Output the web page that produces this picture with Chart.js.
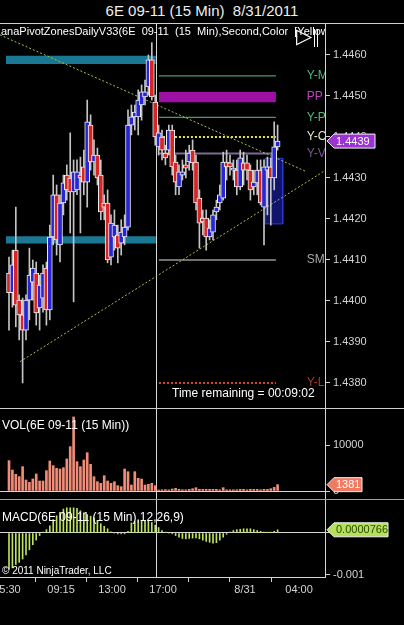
<!DOCTYPE html>
<html><head><meta charset="utf-8">
<script src="https://cdn.jsdelivr.net/npm/chart.js@4.4.1/dist/chart.umd.min.js"></script>
<style>
html,body{margin:0;padding:0;background:#000;}
#wrap{position:relative;width:404px;height:625px;overflow:hidden;background:#000;font-family:Arial,"Liberation Sans",sans-serif;}
.cv{position:absolute;left:0;}
.t{position:absolute;color:#fff;white-space:pre;line-height:1;}
.hl{position:absolute;height:1px;background:#cfcfcf;}
</style></head><body>
<div id="wrap">
 <canvas id="pc" class="cv" width="404" height="385" style="top:23px"></canvas>
 <canvas id="vc" class="cv" width="404" height="90" style="top:409px"></canvas>
 <canvas id="mc" class="cv" width="404" height="100" style="top:500px"></canvas>
 <div class="t" style="top:3px;left:0;width:404px;text-align:center;font-size:15px;color:#eee">6E 09-11 (15 Min)  8/31/2011</div>
 <div class="hl" style="top:23px;left:0;width:404px"></div>
 <div class="hl" style="top:408px;left:0;width:404px"></div>
 <div class="hl" style="top:499px;left:0;width:404px;background:#a0a0a0"></div>
 <div class="t" style="top:26px;left:1px;width:324px;overflow:hidden;font-size:11px">anaPivotZonesDailyV33(6E  09-11  (15  Min),Second,Color  [Yellow</div>
 <div class="t" style="top:25px;left:296px;font-size:21px">▷</div>
 <div style="position:absolute;left:314px;top:29px;width:1px;height:18px;background:#fff"></div>
 <div style="position:absolute;left:317px;top:29px;width:1px;height:18px;background:#fff"></div>
 <div class="t" style="top:387px;left:172px;font-size:12px">Time remaining = 00:09:02</div>
 <div class="t" style="top:419px;left:2px;font-size:12px">VOL(6E 09-11 (15 Min))</div>
 <div class="t" style="top:511px;left:2px;font-size:12px">MACD(6E 09-11 (15 Min),12,26,9)</div>
 <div class="t" style="top:566px;left:2px;font-size:10px">© 2011 NinjaTrader, LLC</div>
</div>
<script>
// ---------- data ----------
const open = [1.44068,1.44020,1.44124,1.44002,1.43966,1.43929,1.44002,1.44046,1.44068,1.43983,
1.44007,1.44080,1.43978,1.44156,1.44259,1.44137,1.44239,1.44307,1.44300,1.44266,
1.44271,1.44307,1.44327,1.44290,1.44429,1.44339,1.44356,1.44307,1.44239,1.44239,
1.44107,1.44156,1.44161,1.44141,1.44156,1.44180,1.44429,1.44449,1.44449,1.44478,
1.44498,1.44522,1.44588,1.44485,1.44376,1.44400,1.44361,1.44368,1.44417,1.44339,
1.44278,1.44307,1.44332,1.44339,1.44368,1.44339,1.44251,1.44202,1.44202,1.44156,
1.44168,1.44217,1.44239,1.44251,1.44339,1.44337,1.44319,1.44319,1.44278,1.44337,
1.44337,1.44319,1.44278,1.44288,1.44319,1.44229,1.44319,1.44327,1.44300,1.44376];
const high = [1.44107,1.44124,1.44229,1.44015,1.44007,1.44015,1.44129,1.44100,1.44095,1.44063,
1.44088,1.44095,1.44185,1.44307,1.44283,1.44259,1.44307,1.44332,1.44410,1.44344,
1.44344,1.44351,1.44368,1.44490,1.44454,1.44393,1.44373,1.44344,1.44259,1.44271,
1.44210,1.44222,1.44185,1.44198,1.44210,1.44466,1.44478,1.44478,1.44515,1.44527,
1.44539,1.44600,1.44630,1.44502,1.44429,1.44417,1.44380,1.44429,1.44429,1.44356,
1.44332,1.44344,1.44368,1.44380,1.44393,1.44356,1.44271,1.44222,1.44222,1.44198,
1.44222,1.44246,1.44283,1.44363,1.44368,1.44356,1.44344,1.44344,1.44368,1.44363,
1.44356,1.44332,1.44319,1.44344,1.44344,1.44344,1.44351,1.44349,1.44437,1.44429];
const low = [1.43929,1.43985,1.43937,1.43905,1.43800,1.43905,1.43954,1.44002,1.43941,1.43929,
1.43973,1.43941,1.43954,1.44137,1.44112,1.44095,1.44210,1.44246,1.44166,1.43998,
1.44259,1.44166,1.44259,1.44229,1.44319,1.44307,1.44283,1.44198,1.44198,1.44093,
1.44088,1.44124,1.44093,1.44112,1.44137,1.44173,1.44405,1.44417,1.44405,1.44441,
1.44478,1.44502,1.44490,1.44380,1.44356,1.44344,1.44332,1.44356,1.44307,1.44259,
1.44259,1.44295,1.44300,1.44319,1.44319,1.44222,1.44129,1.44161,1.44124,1.44149,
1.44149,1.44198,1.44222,1.44246,1.44295,1.44307,1.44295,1.44259,1.44271,1.44283,
1.44295,1.44246,1.44259,1.44259,1.44234,1.44137,1.44210,1.44185,1.44271,1.44368];
const close = [1.44020,1.44088,1.43990,1.43966,1.43929,1.44002,1.44063,1.44080,1.43971,1.44039,
1.44068,1.43978,1.44156,1.44259,1.44149,1.44239,1.44288,1.44271,1.44266,1.44315,
1.44315,1.44300,1.44290,1.44437,1.44339,1.44356,1.44300,1.44217,1.44229,1.44100,
1.44190,1.44185,1.44129,1.44168,1.44180,1.44429,1.44449,1.44461,1.44490,1.44510,
1.44510,1.44588,1.44498,1.44400,1.44410,1.44368,1.44349,1.44417,1.44327,1.44290,
1.44315,1.44315,1.44324,1.44361,1.44337,1.44239,1.44190,1.44193,1.44156,1.44178,
1.44210,1.44229,1.44259,1.44339,1.44327,1.44327,1.44324,1.44278,1.44349,1.44319,
1.44319,1.44271,1.44290,1.44319,1.44239,1.44327,1.44327,1.44300,1.44376,1.44390];
const volume = [6600,4570,3620,3120,5290,2390,1880,2610,3700,2170,
2170,4420,6520,5510,4930,4780,5070,6960,9640,16100,
6380,5290,6740,8330,5800,3120,2030,1670,3330,2170,
1670,2030,1160,940,4780,4200,1300,4200,2760,2600,
1300,1450,1670,1160,220,260,300,250,430,580,
360,260,260,360,500,720,360,360,360,360,
360,360,260,720,260,260,260,260,360,360,
260,360,360,360,260,360,360,500,800,1381];
const macd = [-0.00087,-0.00083,-0.00075,-0.00070,-0.00062,-0.00052,-0.00040,-0.00028,-0.00017,-0.00006,
0.00002,0.00008,0.00017,0.00032,0.00041,0.00049,0.00057,0.00060,0.00060,0.00060,
0.00059,0.00053,0.00048,0.00044,0.00040,0.00036,0.00030,0.00022,0.00016,0.00010,
0.00003,0.00000,-0.00002,-0.00002,-0.00002,0.00004,0.00024,0.00027,0.00029,0.00029,
0.00029,0.00029,0.00025,0.00019,0.00013,0.00006,0.00002,0.00000,-0.00002,-0.00006,
-0.00010,-0.00013,-0.00014,-0.00013,-0.00012,-0.00012,-0.00014,-0.00017,-0.00020,-0.00022,
-0.00024,-0.00023,-0.00017,-0.00010,-0.00003,0.00002,0.00006,0.00008,0.00009,0.00010,
0.00010,0.00010,0.00008,0.00006,0.00004,0.00002,0.00002,0.00002,0.00004,0.0000766];

const priceTicks = [1.4380,1.4390,1.4400,1.4410,1.4420,1.4430,1.4440,1.4450,1.4460];
const volTicks = [0,10000];
const macdTicks = [-0.001,0];
const timeTickAt = [0.3,15.3,30.3,45.3,60.3,69.4,85.3];       // bar index of each time tick
const timeTickLabels = ['5:30','09:15','13:00','17:00','','8/31','04:00'];
const sessionBreakAt = 43.2;

const levelNames  = ['Y-M','PP','Y-P','Y-C','Y-V','SM','Y-L'];
const levelValues = [1.44549,1.44498,1.44448,1.44400,1.44360,1.44100,1.43800];
const levelSpan = [44.1,78.5];
const ppBand = [1.44485,1.44510];
const zoneHigh = [1.44598,1.44158];
const zoneLow  = [1.44578,1.44140];
const zoneSpan = [-0.9,43.2];
const trendUpper = [[-2.65,1.44649],[87.6,1.44315]];
const trendLower = [[3.24,1.43852],[92.94,1.44318]];
const boxX = [75.3,80.5];
const boxY = [1.44188,1.44348];

// ---------- styles ----------
const FONT = 'Arial, "Liberation Sans", sans-serif';
const AX = '#d4d4d4';
const xMin = -2.65, xMax = 92.94;
const levelStyle = {
 'Y-M':{line:'#5cc090',w:1,dash:[],txt:'#4fb87f'},
 'PP': {line:null,txt:'#c040c0'},
 'Y-P':{line:'#5cc090',w:1,dash:[],txt:'#4fb87f'},
 'Y-C':{line:'#e4e44c',w:2,dash:[2,2],txt:'#e8e8c8'},
 'Y-V':{line:'#7e6a96',w:2,dash:[],txt:'#7a5a90'},
 'SM': {line:'#e0e0e0',w:1,dash:[],txt:'#a8a8a8'},
 'Y-L':{line:'#d84828',w:2,dash:[2,2],txt:'#a83a22'}
};
const idx = close.map((_, i) => i);

function xCfg(show){
 return {type:'linear', min:xMin, max:xMax, offset:false, display:show,
  grid:{drawOnChartArea:false, drawTicks:true, tickLength:5, tickColor:AX, color:AX},
  border:{display:true, color:AX},
  ticks:{color:AX, font:{size:11, family:FONT}, padding:1, autoSkip:false, maxRotation:0, minRotation:0,
         callback:(v,i)=> timeTickLabels[i] ?? ''},
  afterBuildTicks:(s)=>{ s.ticks = timeTickAt.map(v=>({value:v})); },
  afterFit:(s)=>{ s.height = show ? 23 : 0; s.paddingLeft = 0; s.paddingRight = 0; s.paddingTop = 0; s.paddingBottom = 0; }
 };
}
function yCfg(min,max,tickVals,fmt,zeroLine){
 return {type:'linear', position:'right', min, max,
  grid:{drawOnChartArea:zeroLine, drawTicks:true, tickLength:5, tickColor:AX,
        color:(c)=> (zeroLine && c.tick && c.tick.value===0) ? '#d8d8d8' : 'rgba(0,0,0,0)'},
  border:{display:true, color:AX},
  ticks:{color:AX, font:{size:11, family:FONT}, padding:3, callback:fmt},
  afterBuildTicks:(s)=>{ s.ticks = tickVals.map(v=>({value:v})); },
  afterFit:(s)=>{ s.width = 79; s.paddingTop = 0; s.paddingBottom = 0; s.paddingLeft = 0; s.paddingRight = 0; }
 };
}
const sessionPlugin = {id:'session', beforeDatasetsDraw(chart){
 const x = Math.round(chart.scales.x.getPixelForValue(sessionBreakAt)) + 0.5;
 const {top,bottom} = chart.chartArea; const ctx = chart.ctx;
 ctx.save(); ctx.strokeStyle='#d8d8d8'; ctx.lineWidth=1; ctx.beginPath(); ctx.moveTo(x,top); ctx.lineTo(x,bottom); ctx.stroke(); ctx.restore();
}};
function tagPlugin(id, value, text, fill, txt, boxW){
 return {id, afterDraw(chart){
  const y = chart.scales.y.getPixelForValue(value);
  const x0 = chart.chartArea.right + 2, ctx = chart.ctx, h = 7;
  ctx.save();
  ctx.beginPath(); ctx.moveTo(x0,y); ctx.lineTo(x0+7,y-h); ctx.lineTo(x0+boxW,y-h); ctx.lineTo(x0+boxW,y+h); ctx.lineTo(x0+7,y+h); ctx.closePath();
  ctx.fillStyle=fill; ctx.fill(); ctx.strokeStyle='#f4f4f4'; ctx.lineWidth=1; ctx.stroke();
  ctx.fillStyle=txt; ctx.font='11px '+FONT; ctx.textBaseline='middle'; ctx.textAlign='left';
  ctx.fillText(text, x0+9, y+0.5);
  ctx.restore();
 }};
}
const levelLabelPlugin = {id:'levelLabels', afterDatasetsDraw(chart){
 const {ctx, chartArea:a} = chart; const xs = chart.scales.x, ys = chart.scales.y;
 ctx.save(); ctx.beginPath(); ctx.rect(a.left,a.top,a.right-a.left,a.bottom-a.top); ctx.clip();
 ctx.font='12px '+FONT; ctx.textBaseline='middle'; ctx.textAlign='left';
 levelNames.forEach((n,i)=>{ ctx.fillStyle = levelStyle[n].txt; ctx.fillText(n, xs.getPixelForValue(87.6), ys.getPixelForValue(levelValues[i])); });
 ctx.restore();
}};

// ---------- price chart datasets ----------
const ds = [];
ds.push({type:'bar', data: idx.map(i=>({x:i, y:[open[i], close[i]]})),
 backgroundColor: idx.map(i=> close[i] >= open[i] ? '#2626d6' : '#d82424'),
 borderColor:'#f0f0f0', borderWidth:1, borderSkipped:false, barThickness:5, grouped:false, minBarLength:2, order:0});
ds.push({type:'bar', data: idx.map(i=>({x:i, y:[low[i], high[i]]})),
 backgroundColor:'#c4c4c4', borderWidth:0, barThickness:1, grouped:false, order:1});
const ln = (pts, color, w, dash, order, extra) => Object.assign({type:'line', data: pts.map(p=>({x:p[0], y:p[1]})),
 borderColor:color, borderWidth:w, borderDash:dash, pointRadius:0, tension:0, fill:false, order}, extra||{});
ds.push(ln(trendUpper,'#9cc450',1,[2,2],2));
ds.push(ln(trendLower,'#9cc450',1,[2,2],2));
levelNames.forEach((n,i)=>{ const s = levelStyle[n]; if(!s.line) return;
 ds.push(ln([[levelSpan[0],levelValues[i]],[levelSpan[1],levelValues[i]]], s.line, s.w, s.dash, 3)); });
// box border + fill
ds.push(ln([[boxX[0],boxY[1]],[boxX[1],boxY[1]],[boxX[1],boxY[0]],[boxX[0],boxY[0]],[boxX[0],boxY[1]]], '#2c3cd0',1,[],3));
ds.push(ln([[boxX[0],boxY[1]],[boxX[1],boxY[1]]],'rgba(0,0,0,0)',1,[],4,{fill:{value:boxY[0]}, backgroundColor:'rgba(18,22,120,0.9)'}));
// PP band
ds.push(ln([[levelSpan[0],ppBand[1]],[levelSpan[1],ppBand[1]]],'rgba(0,0,0,0)',1,[],4,{fill:{value:ppBand[0]}, backgroundColor:'#9c10a4'}));
// zones
zoneHigh.forEach((h,k)=> ds.push(ln([[zoneSpan[0],h],[zoneSpan[1],h]],'rgba(0,0,0,0)',1,[],4,{fill:{value:zoneLow[k]}, backgroundColor:'#1a7894'})));

const common = {responsive:false, maintainAspectRatio:false, animation:false, events:[],
 layout:{padding:0, autoPadding:false},
 plugins:{legend:{display:false}, tooltip:{enabled:false}}};

new Chart(document.getElementById('pc'), {type:'bar', data:{datasets:ds},
 options:Object.assign({}, common, {scales:{x:xCfg(false), y:yCfg(1.43739,1.44678,priceTicks,(v)=>v.toFixed(4),false)}}),
 plugins:[sessionPlugin, levelLabelPlugin, tagPlugin('ptag', close[close.length-1], close[close.length-1].toFixed(4), '#9b32d2', '#ffffff', 48)]});

new Chart(document.getElementById('vc'), {type:'bar', data:{datasets:[{data: idx.map(i=>({x:i,y:volume[i]})),
 backgroundColor:'#f08c78', borderWidth:0, barThickness:2}]},
 options:Object.assign({}, common, {scales:{x:xCfg(false), y:yCfg(-1739,17826,volTicks,(v)=>String(v),true)}}),
 plugins:[sessionPlugin, tagPlugin('vtag', volume[volume.length-1], String(volume[volume.length-1]), '#f07a62', '#ffffff', 35)]});

new Chart(document.getElementById('mc'), {type:'bar', data:{datasets:[{data: idx.map(i=>({x:i,y:macd[i]})),
 backgroundColor:'#bde35f', borderWidth:0, barThickness:1}]},
 options:Object.assign({}, common, {scales:{x:xCfg(true), y:yCfg(-0.00104762,0.00078571,macdTicks,(v)=> v===0 ? '' : String(v),true)}}),
 plugins:[sessionPlugin, tagPlugin('mtag', macd[macd.length-1], macd[macd.length-1].toFixed(7), '#b5e05a', '#2c4a00', 61)]});
</script>
</body></html>
